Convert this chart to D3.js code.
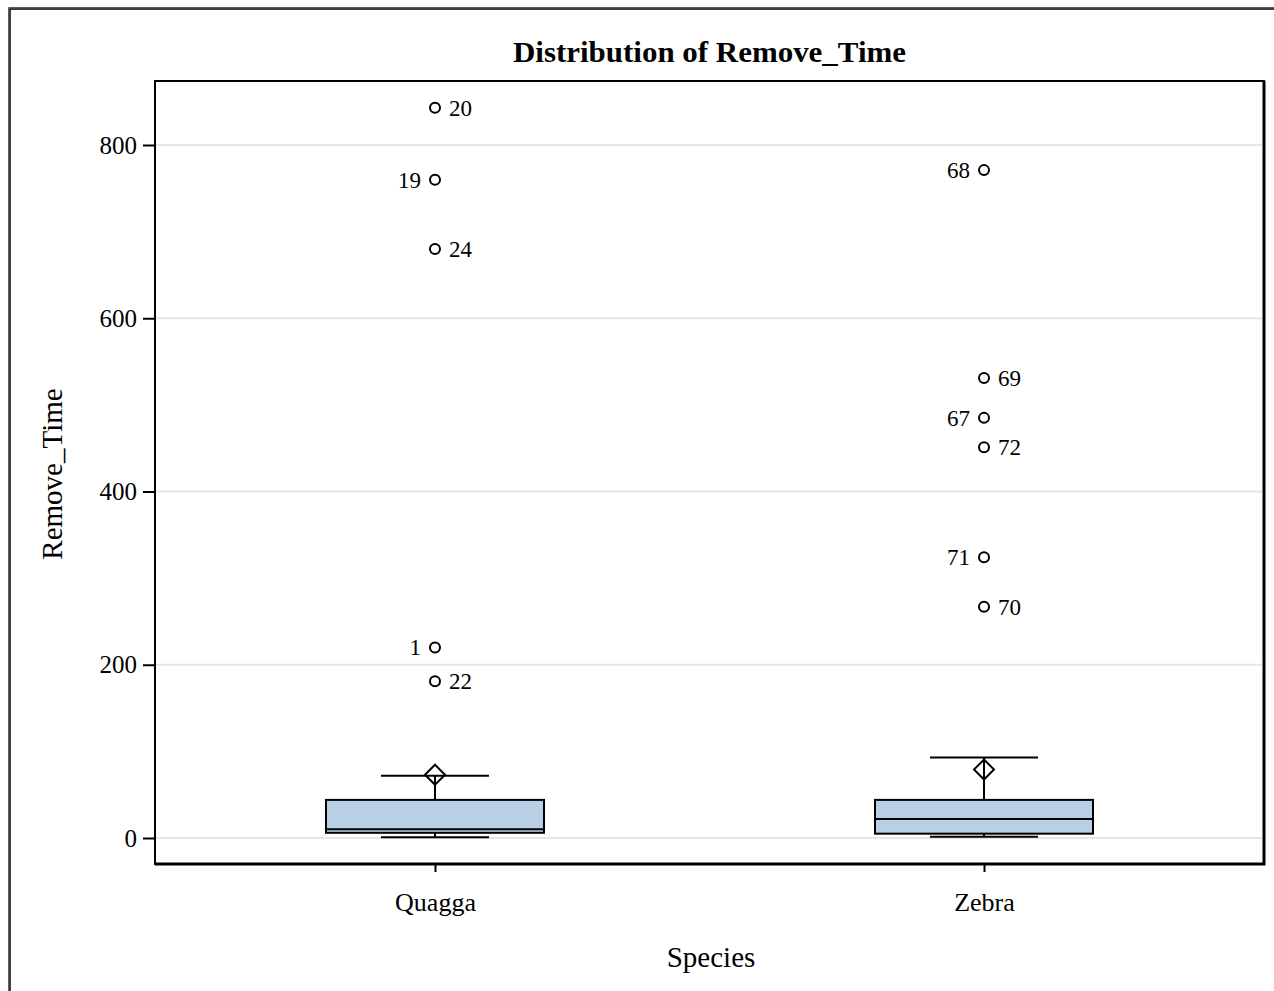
<!DOCTYPE html>
<html><head><meta charset="utf-8">
<script src="https://cdn.jsdelivr.net/npm/d3@7"></script>
<style>
html,body{margin:0;padding:0;background:#fff;}
svg{display:block;}
text{font-family:"Liberation Serif","Times New Roman",serif;fill:#000;}
</style></head>
<body>
<script>
const categories = ["Quagga", "Zebra"];
const q1Values = [6, 5];
const medianValues = [10, 22];
const q3Values = [44, 44];
const whiskerLow = [1, 1.5];
const whiskerHigh = [72, 93];
const meanValues = [73, 79];
const outlierSpecies = ["Quagga","Quagga","Quagga","Quagga","Quagga","Zebra","Zebra","Zebra","Zebra","Zebra","Zebra"];
const outlierValues = [843, 760, 680, 220, 181, 771, 531, 485, 451, 324, 267];
const outlierIds = ["20","19","24","1","22","68","69","67","72","71","70"];
const outlierLabelSide = ["right","left","right","left","right","left","right","left","right","left","right"];
const yTicks = [0, 200, 400, 600, 800];

const W = 1274, H = 991;
const svg = d3.select("body").append("svg").attr("width", W).attr("height", H);
svg.append("rect").attr("width", W).attr("height", H).attr("fill", "#fff");

// outer border (left & top visible)
svg.append("path").attr("d", "M8.5,991 V7.5 H1274").attr("fill","none").attr("stroke","#5a5a78").attr("stroke-width",1);
svg.append("path").attr("d", "M10,991 V9 H1274").attr("fill","none").attr("stroke","#000").attr("stroke-width",1.5);

const L = 155, R = 1264, T = 81, B = 864;
const y = d3.scaleLinear().domain([0, 800]).range([838, 145]);
const x = d3.scalePoint().domain(categories).range([L, R]).padding(0.51);
const boxW = 218, capW = 108;

// gridlines
svg.append("g").selectAll("line").data(yTicks).join("line")
  .attr("x1", L).attr("x2", R - 2).attr("y1", d => y(d)).attr("y2", d => y(d))
  .attr("stroke", "#e6e6e6").attr("stroke-width", 2);

// axes
const yAxis = d3.axisLeft(y).tickValues(yTicks).tickSize(12).tickPadding(6).tickFormat(d3.format("d"));
const gy = svg.append("g").attr("transform", `translate(${L},0)`).call(yAxis);
gy.select(".domain").remove();
gy.selectAll(".tick line").attr("stroke", "#000").attr("stroke-width", 2);
gy.selectAll(".tick text").style("font-size", "25px").attr("fill", "#000");

const xAxis = d3.axisBottom(x).tickSize(8).tickPadding(21);
const gx = svg.append("g").attr("transform", `translate(0,${B})`).call(xAxis);
gx.select(".domain").remove();
gx.selectAll(".tick line").attr("stroke", "#000").attr("stroke-width", 2);
gx.selectAll(".tick text").style("font-size", "26px").attr("fill", "#000");

// boxes
const idx = d3.range(categories.length);
const g = svg.append("g");
idx.forEach(i => {
  const cx = x(categories[i]);
  g.append("line").attr("x1", cx).attr("x2", cx).attr("y1", y(q3Values[i])).attr("y2", y(whiskerHigh[i])).attr("stroke","#000").attr("stroke-width",2);
  g.append("line").attr("x1", cx).attr("x2", cx).attr("y1", y(q1Values[i])).attr("y2", y(whiskerLow[i])).attr("stroke","#000").attr("stroke-width",2);
  g.append("line").attr("x1", cx - capW/2).attr("x2", cx + capW/2).attr("y1", y(whiskerHigh[i])).attr("y2", y(whiskerHigh[i])).attr("stroke","#000").attr("stroke-width",2);
  g.append("line").attr("x1", cx - capW/2).attr("x2", cx + capW/2).attr("y1", y(whiskerLow[i])).attr("y2", y(whiskerLow[i])).attr("stroke","#000").attr("stroke-width",2);
  g.append("rect").attr("x", cx - boxW/2).attr("y", y(q3Values[i])).attr("width", boxW)
    .attr("height", y(q1Values[i]) - y(q3Values[i])).attr("fill", "#b9cfe6").attr("stroke", "#000").attr("stroke-width", 2);
  g.append("line").attr("x1", cx - boxW/2).attr("x2", cx + boxW/2).attr("y1", y(medianValues[i])).attr("y2", y(medianValues[i])).attr("stroke","#000").attr("stroke-width",2);
  const my = y(meanValues[i]), s = 10;
  g.append("path").attr("d", `M${cx},${my - s} L${cx + s},${my} L${cx},${my + s} L${cx - s},${my} Z`)
    .attr("fill", "none").attr("stroke", "#000").attr("stroke-width", 2);
});

// outliers
const outIdx = d3.range(outlierValues.length);
svg.append("g").selectAll("circle").data(outIdx).join("circle")
  .attr("cx", i => x(outlierSpecies[i])).attr("cy", i => y(outlierValues[i])).attr("r", 5)
  .attr("fill", "none").attr("stroke", "#000").attr("stroke-width", 2);
svg.append("g").selectAll("text").data(outIdx).join("text")
  .attr("x", i => x(outlierSpecies[i]) + (outlierLabelSide[i] === "right" ? 14 : -14))
  .attr("y", i => y(outlierValues[i]))
  .attr("dy", "0.35em")
  .attr("text-anchor", i => outlierLabelSide[i] === "right" ? "start" : "end")
  .style("font-size", "23px")
  .text(i => outlierIds[i]);

// plot frame
svg.append("rect").attr("x", L).attr("y", T).attr("width", R - L).attr("height", B - T)
  .attr("fill", "none").attr("stroke", "#000").attr("stroke-width", 2);
svg.append("path").attr("d", `M${R},${T} V${B} H${L}`).attr("fill","none").attr("stroke","#000").attr("stroke-width",3);

// titles
svg.append("text").attr("x", 709.5).attr("y", 62).attr("text-anchor", "middle")
  .style("font-size", "30px").style("font-weight", "bold")
  .attr("textLength", 393).attr("lengthAdjust", "spacingAndGlyphs")
  .text("Distribution of Remove_Time");
svg.append("text").attr("x", 711).attr("y", 967).attr("text-anchor", "middle")
  .style("font-size", "29px").text("Species");
svg.append("text").attr("transform", "translate(62,474) rotate(-90)").attr("text-anchor", "middle")
  .style("font-size", "29px").text("Remove_Time");
</script>
</body></html>
